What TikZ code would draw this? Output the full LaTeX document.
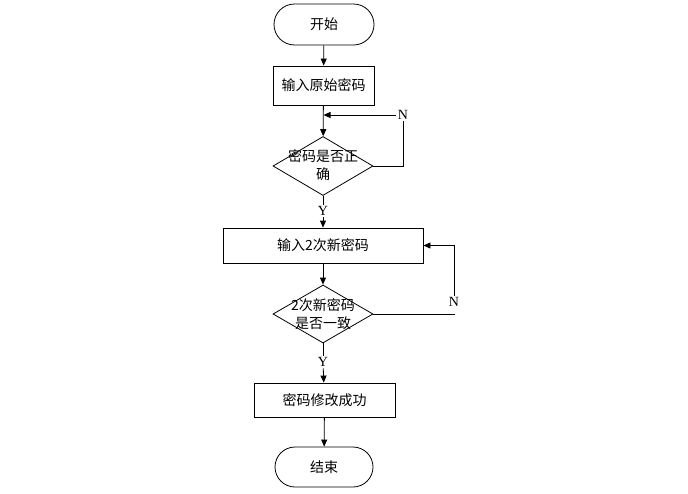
\documentclass[tikz,border=0pt]{standalone}
\usepackage{fontspec}
\setmainfont{Liberation Serif}
\newfontfamily\cjk{Noto Sans CJK SC}
\usetikzlibrary{shapes.geometric, shapes.misc, arrows.meta}
\tikzstyle{arrow} = [line width=0.8pt,-{Triangle[length=7pt,width=6pt]}]
\tikzstyle{line} = [line width=0.8pt]
\tikzstyle{terminal} = [draw, line width=0.8pt, rounded rectangle, inner sep=0pt, font=\cjk\fontsize{14}{16}\selectfont]
\tikzstyle{process} = [draw, line width=0.8pt, rectangle, inner sep=0pt, font=\cjk\fontsize{14}{16}\selectfont]
\tikzstyle{decision} = [draw, line width=0.8pt, diamond, inner sep=0pt, minimum width=100pt, minimum height=59pt]
\tikzstyle{dtext} = [align=center, inner sep=0pt, font=\cjk\fontsize{14}{18}\selectfont]
\tikzstyle{yn} = [inner sep=1.5pt, font=\fontsize{14}{16}\selectfont]

\begin{document}
\begin{tikzpicture}[x=1pt, y=-1pt]
        \useasboundingbox (0, 0) rectangle (688, 493);
        % main column
        \node[terminal, minimum width=100pt, minimum height=41pt] (start) at (324, 24.5) {开始};
        \node[process, minimum width=101pt, minimum height=39pt] (old) at (323.5, 85.5) {输入原始密码};
        \node[decision] (chk1) at (323, 166) {};
        \node[dtext] (chk1t) at (323, 165) {密码是否正\\确};
        \node[yn] (y1) at (323, 211) {Y};
        \node[process, minimum width=200pt, minimum height=35pt] (new) at (323, 245.5) {输入2次新密码};
        \node[decision, minimum height=58pt] (chk2) at (323, 314) {};
        \node[dtext] (chk2t) at (323, 314) {2次新密码\\是否一致};
        \node[yn] (y2) at (323, 362) {Y};
        \node[process, minimum width=141pt, minimum height=34pt] (done) at (324.5, 400) {密码修改成功};
        \node[terminal, minimum width=98pt, minimum height=40pt] (stop) at (324, 467) {结束};
        % N branches
        \node[yn] (n1) at (403, 115) {N};
        \node[yn] (n2) at (454, 302) {N};
        \coordinate (c2) at (455, 314);

        \draw[arrow] (start) -- (old);
        \draw[arrow] (old) -- (chk1);
        \draw[line] (chk1) -- (y1);
        \draw[arrow] (y1) -- (new);
        \draw[arrow] (new) -- (chk2);
        \draw[line] (chk2) -- (y2);
        \draw[arrow] (y2) -- (done);
        \draw[arrow] (done) -- (stop);

        \draw[line] (chk1.east) -| (n1.south);
        \draw[arrow] (n1.west) -- (n1.west -| old.south);
        \draw[line] (chk2.east) -- (c2);
        \draw[arrow] (n2.north) |- (new.east);
\end{tikzpicture}
\end{document}
